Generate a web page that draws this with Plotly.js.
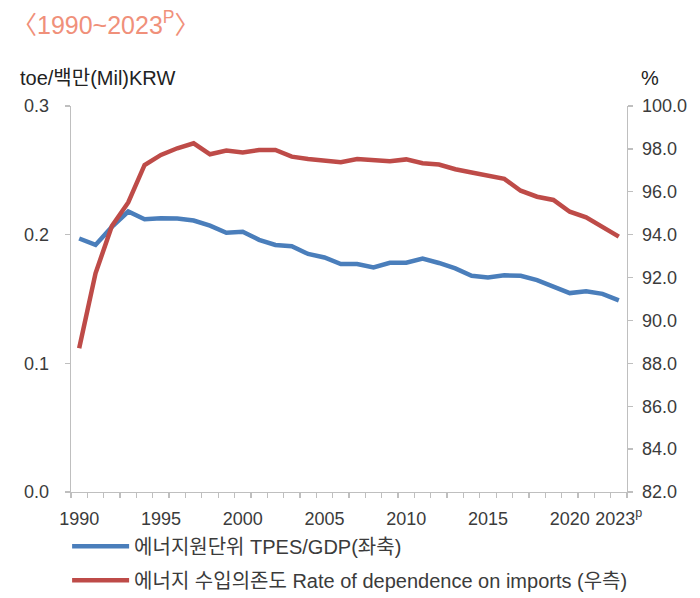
<!DOCTYPE html>
<html>
<head>
<meta charset="utf-8">
<script src="https://cdn.plot.ly/plotly-3.0.1.min.js"></script>
<style>html,body{margin:0;padding:0;background:#fff;}#chart{width:700px;height:598px;}</style>
</head>
<body>
<div id="chart"></div>
<script>
const years = [1990,1991,1992,1993,1994,1995,1996,1997,1998,1999,2000,2001,2002,2003,2004,2005,2006,2007,2008,2009,2010,2011,2012,2013,2014,2015,2016,2017,2018,2019,2020,2021,2022,2023];
const intensity = [0.197,0.192,0.206,0.218,0.212,0.2127,0.2125,0.211,0.207,0.2015,0.2023,0.196,
  0.192,0.191,0.185,0.1823,0.1772,0.1772,0.1746,0.1782,0.1782,0.1815,0.178,
  0.1738,0.168,0.1668,0.1684,0.168,0.1647,0.160,0.1546,0.156,0.154,0.149];
const dependence = [88.7,92.2,94.4,95.5,97.25,97.72,98.03,98.26,97.75,97.92,97.83,97.95,
  97.95,97.64,97.53,97.45,97.38,97.53,97.5,97.42,97.51,97.33,97.27,
  97.05,96.9,96.76,96.6,96.05,95.77,95.62,95.07,94.81,94.35,93.91];
const xTickVals = [1990,1995,2000,2005,2010,2015,2020,2023];
const xTickText = ['1990','1995','2000','2005','2010','2015','2020','2023<sup>p</sup>'];
const seriesNames = ['에너지원단위 TPES/GDP(좌축)','에너지 수입의존도 Rate of dependence on imports (우측)'];
const chartTitle = '〈1990~2023<sup>P</sup>〉';
const leftUnit = 'toe/백만(Mil)KRW';
const rightUnit = '%';

const FONT = '"Liberation Sans", Arial, "Noto Sans CJK KR", sans-serif';
const TXT = '#3b3b3b';
const AX = '#bfbfbf';

const traces = [
  {x: years, y: intensity, name: seriesNames[0], type: 'scatter', mode: 'lines',
   line: {color: '#4a7ebb', width: 4.5}, yaxis: 'y', legendgroup: 'a'},
  {x: years, y: dependence, name: seriesNames[1], type: 'scatter', mode: 'lines',
   line: {color: '#be4b48', width: 4.5}, yaxis: 'y2', legendgroup: 'b'}
];

const layout = {
  width: 700, height: 598,
  margin: {l: 71, r: 73, t: 106, b: 106, autoexpand: false},
  paper_bgcolor: '#fff', plot_bgcolor: '#fff',
  font: {family: FONT, color: TXT, size: 18},
  showlegend: true,
  legend: {x: -0.007, y: -0.09, xanchor: 'left', yanchor: 'top', orientation: 'v',
           itemwidth: 57,
           font: {size: 20, color: TXT, family: FONT}, tracegroupgap: 5, bgcolor: 'rgba(0,0,0,0)'},
  xaxis: {
    range: [1989.5, 2023.5], showgrid: false, zeroline: false,
    showline: true, linecolor: AX, linewidth: 1.3,
    tickmode: 'array', tickvals: xTickVals, ticktext: xTickText,
    ticks: 'outside', ticklen: 10, tickcolor: 'rgba(0,0,0,0)',
    tickfont: {size: 18, color: TXT},
    minor: {tick0: 1989.5, dtick: 1, ticks: 'outside', ticklen: 5, tickcolor: AX, tickwidth: 1.3, showgrid: false}
  },
  yaxis: {
    range: [0, 0.3], dtick: 0.1, tickformat: '.1f', showgrid: false, zeroline: false,
    showline: true, linecolor: AX, linewidth: 1.3,
    ticks: 'outside', ticklen: 5, tickcolor: AX, tickwidth: 1.3,
    tickfont: {size: 18, color: TXT}, ticklabelstandoff: 12
  },
  yaxis2: {
    range: [82, 100], dtick: 2, tickformat: '.1f', overlaying: 'y', side: 'right',
    showgrid: false, zeroline: false,
    showline: true, linecolor: AX, linewidth: 1.3,
    ticks: 'outside', ticklen: 5, tickcolor: AX, tickwidth: 1.3,
    tickfont: {size: 18, color: TXT}, ticklabelstandoff: 5
  },
  annotations: [
    {text: chartTitle, xref: 'paper', yref: 'paper', x: -0.11, y: 1.215, xanchor: 'left', yanchor: 'middle',
     showarrow: false, font: {size: 25, color: '#f0907a', family: FONT}},
    {text: leftUnit, xref: 'paper', yref: 'paper', x: -0.095, y: 1.0725, xanchor: 'left', yanchor: 'middle',
     showarrow: false, font: {size: 20, color: '#222', family: FONT}},
    {text: rightUnit, xref: 'paper', yref: 'paper', x: 1.022, y: 1.0725, xanchor: 'left', yanchor: 'middle',
     showarrow: false, font: {size: 20, color: '#222', family: FONT}}
  ]
};

Plotly.newPlot('chart', traces, layout, {displayModeBar: false, staticPlot: true});
</script>
</body>
</html>
